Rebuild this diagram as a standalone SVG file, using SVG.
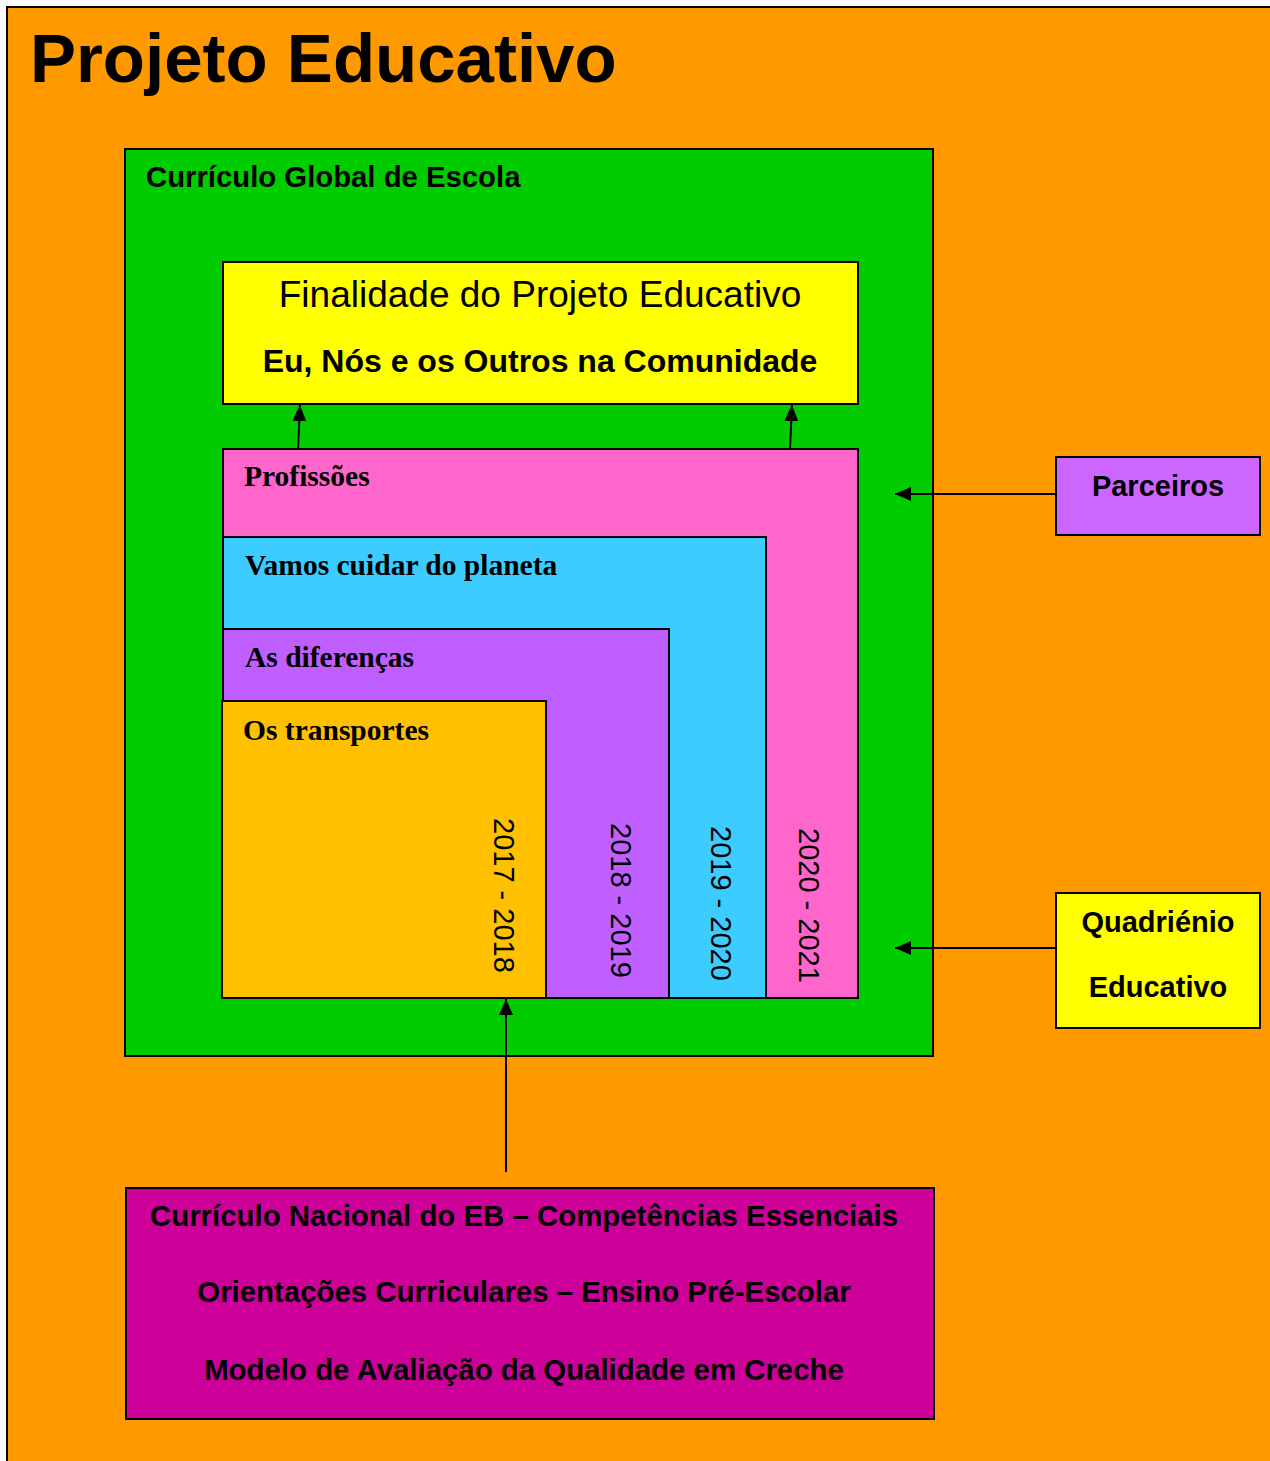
<svg xmlns="http://www.w3.org/2000/svg" width="1270" height="1461" viewBox="0 0 1270 1461">
<defs>
<style>
.box{stroke:#000;stroke-width:2}
.sb{font-family:"Liberation Sans",Arial,sans-serif;font-weight:bold;fill:#000}
.sr{font-family:"Liberation Sans",Arial,sans-serif;fill:#000}
.tb{font-family:"Liberation Serif","Times New Roman",serif;font-weight:bold;fill:#000;font-size:29.5px}
.yr{font-family:"Liberation Sans",Arial,sans-serif;fill:#000;font-size:29px}
.conn{stroke:#000;stroke-width:2;fill:none;marker-end:url(#ah)}
</style>
<marker id="ah" viewBox="0 0 16 14" refX="16" refY="7" markerWidth="16" markerHeight="14" markerUnits="userSpaceOnUse" orient="auto">
<path d="M0,0 L16,7 L0,14 z" fill="#000"/>
</marker>
</defs>
<rect x="0" y="0" width="1270" height="1461" fill="#fff"/>
<g id="page">
<rect class="box" x="7" y="7" width="1275" height="1470" fill="#FF9900"/>
<text class="sb" x="30" y="82" font-size="69">Projeto Educativo</text>
</g>
<g id="curriculo-global">
<rect class="box" x="125" y="149" width="808" height="907" fill="#00CC00"/>
<text class="sb" x="146" y="187" font-size="29.3">Currículo Global de Escola</text>
</g>
<g id="finalidade">
<rect class="box" x="223" y="262" width="635" height="142" fill="#FFFF00"/>
<text class="sr" x="540" y="307" font-size="37" text-anchor="middle">Finalidade do Projeto Educativo</text>
<text class="sb" x="540" y="372" font-size="32" text-anchor="middle">Eu, Nós e os Outros na Comunidade</text>
</g>
<g id="profissoes">
<rect class="box" x="223" y="449" width="635" height="549" fill="#FF66CC"/>
<text class="tb" x="244" y="486">Profissões</text>
<text class="yr" transform="translate(799,828) rotate(90)">2020 - 2021</text>
</g>
<g id="planeta">
<rect class="box" x="223" y="537" width="543" height="461" fill="#3CCCFF"/>
<text class="tb" x="245" y="575">Vamos cuidar do planeta</text>
<text class="yr" transform="translate(711,826) rotate(90)">2019 - 2020</text>
</g>
<g id="diferencas">
<rect class="box" x="223" y="629" width="446" height="369" fill="#BF5FFF"/>
<text class="tb" x="245" y="667">As diferenças</text>
<text class="yr" transform="translate(611,823) rotate(90)">2018 - 2019</text>
</g>
<g id="transportes">
<rect class="box" x="222" y="701" width="324" height="297" fill="#FFC000"/>
<text class="tb" x="243" y="740">Os transportes</text>
<text class="yr" transform="translate(494,818) rotate(90)">2017 - 2018</text>
</g>
<g id="parceiros">
<rect class="box" x="1056" y="457" width="204" height="78" fill="#CC66FF"/>
<text class="sb" x="1158" y="496" font-size="29" text-anchor="middle">Parceiros</text>
</g>
<g id="quadrienio">
<rect class="box" x="1056" y="893" width="204" height="135" fill="#FFFF00"/>
<text class="sb" x="1158" y="932" font-size="29" text-anchor="middle">Quadriénio</text>
<text class="sb" x="1158" y="997" font-size="29" text-anchor="middle">Educativo</text>
</g>
<g id="curriculo-nacional">
<rect class="box" x="126" y="1188" width="808" height="231" fill="#CC0099"/>
<text class="sb" x="524" y="1226" font-size="29.4" text-anchor="middle">Currículo Nacional do EB – Competências Essenciais</text>
<text class="sb" x="524" y="1302" font-size="29.4" text-anchor="middle">Orientações Curriculares – Ensino Pré-Escolar</text>
<text class="sb" x="524" y="1380" font-size="29.4" text-anchor="middle">Modelo de Avaliação da Qualidade em Creche</text>
</g>
<g id="connectors">
<line class="conn" x1="298" y1="449" x2="300" y2="405"/>
<line class="conn" x1="790" y1="449" x2="792" y2="405"/>
<line class="conn" x1="1056" y1="494" x2="895" y2="494"/>
<line class="conn" x1="1056" y1="948" x2="895" y2="948"/>
<line class="conn" x1="506" y1="1172" x2="506" y2="999"/>
</g>
</svg>
